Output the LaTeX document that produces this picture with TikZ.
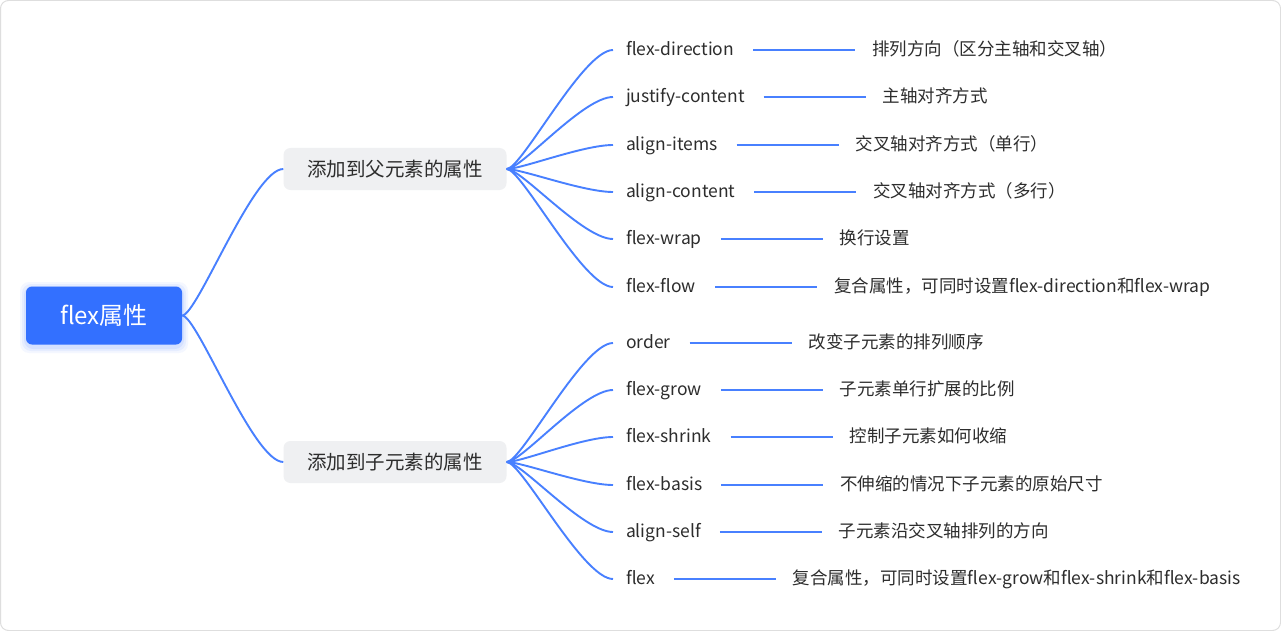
\documentclass[tikz,border=0pt]{standalone}
\usepackage{fontspec}
\setmainfont{Noto Sans CJK SC}
\definecolor{rootblue}{RGB}{51,112,255}
\definecolor{linkblue}{RGB}{72,128,255}
\definecolor{catfill}{RGB}{239,240,242}
\definecolor{txt}{RGB}{45,45,45}
\definecolor{framec}{RGB}{222,222,222}
\begin{document}
\begin{tikzpicture}[x=1pt,y=-1pt,
  conn/.style={draw=linkblue, line width=1.9pt},
  rootnode/.style={fill=rootblue, text=white, rounded corners=6pt, minimum width=156pt, minimum height=58pt, inner sep=0pt, font=\fontsize{24}{28}\selectfont},
  catnode/.style={fill=catfill, text=txt, rounded corners=7pt, minimum width=223pt, minimum height=42pt, inner sep=0pt, font=\fontsize{19.5}{24}\selectfont},
  leafnode/.style={anchor=west, text=txt, inner sep=0pt, outer xsep=13pt, outer ysep=0pt, text height=14pt, text depth=3pt, font=\fontsize{17.5}{22}\selectfont},
  descnode/.style={anchor=west, text=txt, inner sep=0pt, outer sep=0pt, text height=14pt, text depth=3pt, font=\fontsize{17.5}{22}\selectfont},
  hline/.style={conn, line width=2pt, shorten <=6pt, shorten >=17pt}
]
\useasboundingbox (0,0) rectangle (1281,631);
\draw[framec, line width=1pt, rounded corners=8pt, fill=white] (0.5,0.5) rectangle (1280.5,630.5);

% root glow
\foreach \g/\o in {6/0.05,4/0.07,2/0.09}{
  \fill[rootblue, opacity=\o, rounded corners=9pt] (26-\g,286-\g+2) rectangle (182+\g,345+\g+2);
}
\node[rootnode] (root) at (104,315.5) {flex属性};
\node[catnode] (p) at (395,169) {添加到父元素的属性};
\node[catnode] (c) at (395,462) {添加到子元素的属性};

\draw[conn] (root.east) .. controls +(15,0) and +(-30,0) .. (p.west);
\draw[conn] (root.east) .. controls +(15,0) and +(-30,0) .. (c.west);

% parent properties
\node[leafnode] (l1) at (613,50) {flex-direction};
\node[leafnode] (l2) at (613,97) {justify-content};
\node[leafnode] (l3) at (613,145) {align-items};
\node[leafnode] (l4) at (613,192) {align-content};
\node[leafnode] (l5) at (613,239) {flex-wrap};
\node[leafnode] (l6) at (613,287) {flex-flow};
\node[descnode] (d1) at ([xshift=125pt]l1.east) {排列方向（区分主轴和交叉轴）};
\node[descnode] (d2) at ([xshift=125pt]l2.east) {主轴对齐方式};
\node[descnode] (d3) at ([xshift=125pt]l3.east) {交叉轴对齐方式（单行）};
\node[descnode] (d4) at ([xshift=125pt]l4.east) {交叉轴对齐方式（多行）};
\node[descnode] (d5) at ([xshift=125pt]l5.east) {换行设置};
\node[descnode] (d6) at ([xshift=125pt]l6.east) {复合属性，可同时设置flex-direction和flex-wrap};

% child properties
\node[leafnode] (l7) at (613,343) {order};
\node[leafnode] (l8) at (613,390) {flex-grow};
\node[leafnode] (l9) at (613,437) {flex-shrink};
\node[leafnode] (l10) at (613,485) {flex-basis};
\node[leafnode] (l11) at (613,532) {align-self};
\node[leafnode] (l12) at (613,579) {flex};
\node[descnode] (d7) at ([xshift=125pt]l7.east) {改变子元素的排列顺序};
\node[descnode] (d8) at ([xshift=125pt]l8.east) {子元素单行扩展的比例};
\node[descnode] (d9) at ([xshift=125pt]l9.east) {控制子元素如何收缩};
\node[descnode] (d10) at ([xshift=125pt]l10.east) {不伸缩的情况下子元素的原始尺寸};
\node[descnode] (d11) at ([xshift=125pt]l11.east) {子元素沿交叉轴排列的方向};
\node[descnode] (d12) at ([xshift=125pt]l12.east) {复合属性，可同时设置flex-grow和flex-shrink和flex-basis};

\foreach \i in {1,...,6}{
  \draw[conn] (p.east) .. controls +(15,0) and +(-30,0) .. (l\i.west);
  \draw[hline] (l\i.east) -- (d\i.west);
}
\foreach \i in {7,...,12}{
  \draw[conn] (c.east) .. controls +(15,0) and +(-30,0) .. (l\i.west);
  \draw[hline] (l\i.east) -- (d\i.west);
}
\end{tikzpicture}
\end{document}
